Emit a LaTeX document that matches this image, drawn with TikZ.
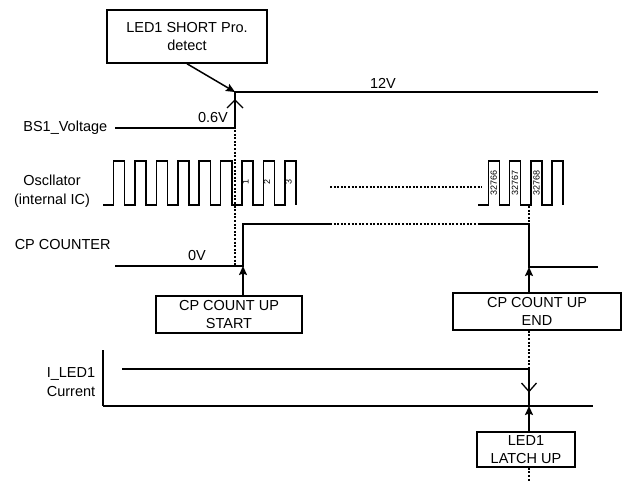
\documentclass[tikz,border=0pt]{standalone}
\usepackage{fontspec}
\setmainfont{Liberation Sans}
\usetikzlibrary{arrows.meta}
\begin{document}
\begin{tikzpicture}[x=1pt,y=-1pt, line width=1.5pt, line join=miter,
  box/.style={draw, line width=1.5pt, align=center, inner sep=0pt,
              font=\fontsize{14.5}{18.5}\selectfont},
  lbl/.style={inner sep=0pt, align=center, font=\fontsize{14.5}{19}\selectfont},
  tiny/.style={inner sep=0pt, rotate=90, font=\fontsize{9}{9}\selectfont},
  dots/.style={dash pattern=on 2pt off 1.6pt, line width=1.5pt},
  fa/.style={-{Stealth[length=9pt,width=8pt,inset=1.5pt]}},
  ohead/.style={line width=1.3pt}]
\useasboundingbox (0,0) rectangle (626,482);

% boxes
\node[box, minimum width=160pt, minimum height=53pt] (short) at (187,36.5) {LED1 SHORT Pro.\\detect};
\node[box, minimum width=146pt, minimum height=37pt] (start) at (229,314.5) {CP COUNT UP\\START};
\node[box, minimum width=168pt, minimum height=37pt] (endb) at (537,311.5) {CP COUNT UP\\END};
\node[box, minimum width=98pt, minimum height=35pt] (latch) at (526,449.5) {LED1\\LATCH UP};

% left labels
\node[lbl, anchor=east] (lbs) at (108,128) {BS1\_Voltage};
\node[lbl] (losc) at (52,191) {Oscllator\\(internal IC)};
\node[lbl, anchor=west] (lcp) at (14,245) {CP COUNTER};
\node[lbl] (lcur) at (71,382) {I\_LED1\\Current};

% value labels
\node[lbl] (v06) at (213,118) {0.6V};
\node[lbl] (v12) at (383,83) {12V};
\node[lbl] (v0) at (197,256) {0V};

% coordinates
\coordinate (bsup) at (235,92);
\coordinate (cpup) at (243,266);
\coordinate (cpdn) at (529,267);
\coordinate (ildn) at (529,406);

% BS1 voltage
\draw (115,128) -- (235,128) -- (bsup) -- (598,92);
\draw[ohead] (227,108) -- (235,100) -- (243,108);
\draw[fa] (short.south) -- (bsup);
\draw[dots] (235,130) -- (235,265);

% oscillator, first group
\draw (103,205) foreach \r in {113.3,135,156.4,177.8,199.2,220.6,242,263.4,284.8} {
  -- (\r,205) -- (\r,161) -- (\r+11.2,161) -- (\r+11.2,205) };
\node[tiny] (n1) at (245.5,182) {1};
\node[tiny] (n2) at (267,182) {2};
\node[tiny] (n3) at (288.5,182) {3};
\draw[dots] (330,187) -- (482,187);
% oscillator, second group
\draw (478,205) foreach \r in {488.3,509.6,530.9,552.2} {
  -- (\r,205) -- (\r,161) -- (\r+11,161) -- (\r+11,205) };
\node[tiny] (m1) at (493.8,183) {32766};
\node[tiny] (m2) at (515.1,183) {32767};
\node[tiny] (m3) at (536.4,183) {32768};

% CP counter
\draw (115,266) -- (cpup) -- (243,224) -- (330,224);
\draw[dots] (330,224) -- (480,224);
\draw (480,224) -- (529,224) -- (cpdn) -- (598,267);
\draw[dots] (529,206) -- (529,224);
\draw[fa] (start.north -| cpup) -- (cpup);
\draw[fa] (endb.north -| cpdn) -- (cpdn);

% I_LED1 current
\draw (103,350) -- (103,406);
\draw (122,369) -- (529,369) -- (ildn);
\draw (103,406) -- (593,406);
\draw[dots] (endb.south -| ildn) -- (529,369);
\draw[ohead] (521.5,383) -- (529,391.5) -- (536.5,383);
\draw[fa] (latch.north -| ildn) -- (ildn);
\draw[dots] (latch.south -| ildn) -- (529,482);
\end{tikzpicture}
\end{document}
